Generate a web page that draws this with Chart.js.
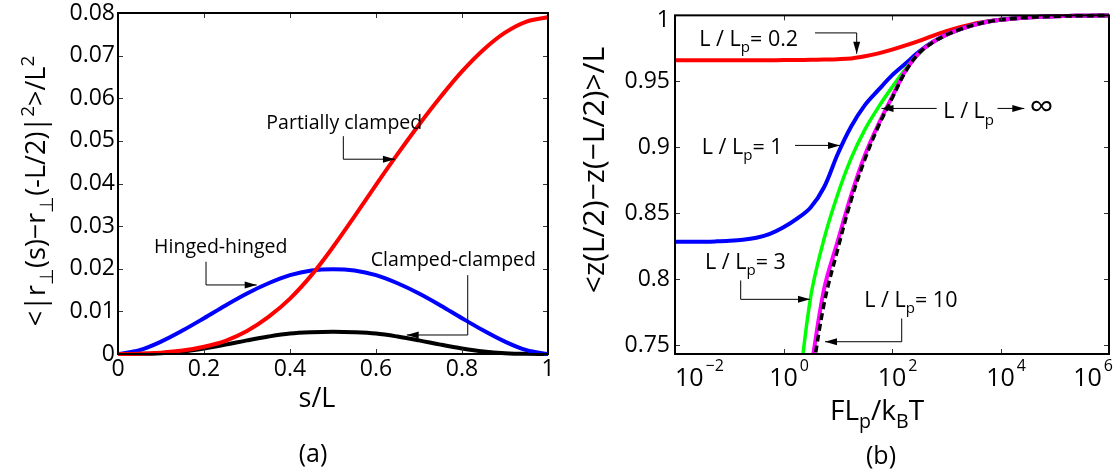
<!DOCTYPE html>
<html>
<head>
<meta charset="utf-8">
<script src="https://cdn.jsdelivr.net/npm/chart.js@4.4.1/dist/chart.umd.min.js"></script>
<style>
  html, body { margin: 0; padding: 0; background: #fff; }
  #wrap { position: relative; width: 1118px; height: 475px; overflow: hidden; }
  canvas { position: absolute; top: 0; }
  #ca { left: 0; }
  #cb { left: 560px; }
</style>
</head>
<body>
<div id="wrap">
  <canvas id="ca" width="560" height="475"></canvas>
  <canvas id="cb" width="558" height="475"></canvas>
</div>
<script>
const FONT = '"Open Sans", "Noto Sans", sans-serif';
const WEIGHT = "500";

// ── (a) transverse fluctuation along the filament ───────────────────────────

const sOverL = [0, 0.05, 0.1, 0.15, 0.2, 0.25, 0.3, 0.35, 0.4, 0.45, 0.5,
                0.55, 0.6, 0.65, 0.7, 0.75, 0.8, 0.85, 0.9, 0.95, 1];
const partiallyClamped = [0, 0.00005, 0.0003, 0.0008, 0.0017, 0.0031, 0.0054, 0.0087, 0.0130, 0.0185, 0.0251,
                          0.0323, 0.0397, 0.0469, 0.0538, 0.0603, 0.0663, 0.0714, 0.0754, 0.0780, 0.0790];
const hingedHinged = [0, 0.0009, 0.0029, 0.0055, 0.0084, 0.0114, 0.0142, 0.0166, 0.0185, 0.0196, 0.0199,
                      0.0196, 0.0185, 0.0166, 0.0142, 0.0114, 0.0084, 0.0055, 0.0029, 0.0009, 0];
const clampedClamped = [0, 0.00003, 0.0002, 0.0006, 0.0013, 0.0022, 0.0032, 0.0041, 0.0048, 0.0051, 0.0052,
                        0.0051, 0.0048, 0.0041, 0.0032, 0.0022, 0.0013, 0.0006, 0.0002, 0.00003, 0];
const xTicksA = [0, 0.2, 0.4, 0.6, 0.8, 1];
const yTicksA = [0, 0.01, 0.02, 0.03, 0.04, 0.05, 0.06, 0.07, 0.08];

// ── (b) relative extension vs force (x stored as log10 of F Lp / kB T) ──────

const logForce = [-2, -1.75, -1.5, -1.25, -1, -0.75, -0.5, -0.25, 0, 0.25, 0.5, 0.75, 1, 1.25, 1.5, 1.75,
                  2, 2.25, 2.5, 2.75, 3, 3.25, 3.5, 3.75, 4, 4.25, 4.5, 4.75, 5, 5.25, 5.5, 5.75, 6];
const ratio02 = [0.966, 0.966, 0.966, 0.966, 0.966, 0.966, 0.966, 0.9660, 0.9661, 0.9662, 0.9663, 0.9665,
                 0.9668, 0.9674, 0.9690, 0.9712, 0.9740, 0.9772, 0.9807, 0.9845, 0.9880, 0.9910, 0.9935,
                 0.9953, 0.9967, 0.9977, 0.9984, 0.9989, 0.9993, 0.9995, 0.9997, 0.9998, 0.9999];
const ratio1 = [0.8285, 0.8285, 0.8286, 0.8288, 0.8292, 0.8300, 0.8316, 0.8345, 0.8395, 0.8460, 0.8545,
                0.8700, 0.8950, 0.9160, 0.9320, 0.9435, 0.9545, 0.9635, 0.9725, 0.9798, 0.9853, 0.9894,
                0.9927, 0.9951, 0.9967, 0.9977, 0.9984, 0.9989, 0.9993, 0.9995, 0.9997, 0.9998, 0.9999];
const ratio3 = [null, null, null, null, null, null, null, null, null, 0.705, 0.7865, 0.831, 0.8645, 0.892,
                0.9135, 0.9305, 0.9455, 0.9595, 0.9712, 0.9795, 0.9851, 0.9893, 0.9926, 0.9950, 0.9966,
                0.9977, 0.9984, 0.9989, 0.9993, 0.9995, 0.9997, 0.9998, 0.9999];
const ratio10 = [null, null, null, null, null, null, null, null, null, null, 0.730, 0.793, 0.829, 0.864,
                 0.894, 0.9175, 0.938, 0.958, 0.9716, 0.9796, 0.9852, 0.9893, 0.9926, 0.9950, 0.9966,
                 0.9977, 0.9984, 0.9989, 0.9993, 0.9995, 0.9997, 0.9998, 0.9999];
const ratioInf = [null, null, null, null, null, null, null, null, null, null, 0.720, 0.782, 0.823, 0.8605,
                  0.891, 0.916, 0.937, 0.9575, 0.9715, 0.9795, 0.9851, 0.9893, 0.9926, 0.9950, 0.9966,
                  0.9977, 0.9984, 0.9989, 0.9993, 0.9995, 0.9997, 0.9998, 0.9999];
const xTicksB = [-2, 0, 2, 4, 6];
const yTicksB = [0.75, 0.8, 0.85, 0.9, 0.95, 1];

// ── Labels and arrows (anchored in data coordinates) ────────────────────────

const notesA = [
  { runs: [["Partially clamped"]], at: [0.345, 0.0527], path: [[0.524, 0.0511], [0.524, 0.0457], [0.644, 0.0457]] },
  { runs: [["Hinged-hinged"]], at: [0.084, 0.0236], path: [[0.2047, 0.02165], [0.2047, 0.0162], [0.3226, 0.0162]] },
  { runs: [["Clamped-clamped"]], at: [0.588, 0.0206], path: [[0.8133, 0.0185], [0.8133, 0.00446], [0.6714, 0.00446]] },
];
const notesB = [
  { runs: [["L / L"], ["p", "sub"], ["= 0.2"]], at: [-1.552, 0.9769], path: [[0.581, 0.9867], [1.349, 0.9867], [1.349, 0.9709]] },
  { runs: [["L / L"], ["p", "sub"], ["= 1"]], at: [-1.508, 0.8952], path: [[0.212, 0.9015], [1.041, 0.9015]] },
  { runs: [["L / L"], ["p", "sub"]], at: [2.946, 0.9220], path: [[2.824, 0.9295], [1.806, 0.9295]] },
  { runs: [], at: [3.945, 0.9295], path: [[3.945, 0.9295], [4.439, 0.9295]] },
  { runs: [["\u221E"]], at: [4.536, 0.9225], size: 34 },
  { runs: [["L / L"], ["p", "sub"], ["= 3"]], at: [-1.447, 0.8080], path: [[-0.789, 0.7992], [-0.789, 0.7849], [0.488, 0.7849]] },
  { runs: [["L / L"], ["p", "sub"], ["= 10"]], at: [1.489, 0.7791], path: [[2.179, 0.7704], [2.179, 0.7528], [0.765, 0.7528]] },
];

// ── Helpers ─────────────────────────────────────────────────────────────────

function drawRich(ctx, runs, x, y, size, align) {
  const parts = runs.map(([t, k]) => {
    const fs = k ? size * 0.7 : size;
    ctx.font = `${WEIGHT} ${fs}px ${FONT}`;
    return { t, k, fs, w: ctx.measureText(t).width };
  });
  const total = parts.reduce((s, p) => s + p.w, 0);
  let cx = align === "center" ? x - total / 2 : x;
  ctx.textAlign = "left";
  ctx.textBaseline = "alphabetic";
  parts.forEach(p => {
    ctx.font = `${WEIGHT} ${p.fs}px ${FONT}`;
    const dy = p.k === "sub" ? size * 0.3 : p.k === "sup" ? -size * 0.42 : 0;
    ctx.fillText(p.t, cx, y + dy);
    cx += p.w;
  });
}

function arrowPath(ctx, pts) {
  ctx.beginPath();
  pts.forEach(([px, py], i) => i ? ctx.lineTo(px, py) : ctx.moveTo(px, py));
  ctx.stroke();
  const [x1, y1] = pts[pts.length - 2];
  const [x2, y2] = pts[pts.length - 1];
  const a = Math.atan2(y2 - y1, x2 - x1);
  const len = 12, half = 3.5;
  ctx.beginPath();
  ctx.moveTo(x2, y2);
  ctx.lineTo(x2 - len * Math.cos(a) + half * Math.sin(a), y2 - len * Math.sin(a) - half * Math.cos(a));
  ctx.lineTo(x2 - len * Math.cos(a) - half * Math.sin(a), y2 - len * Math.sin(a) + half * Math.cos(a));
  ctx.closePath();
  ctx.fill();
}

// box with inward ticks on all four sides, like the original axes
const framePlugin = {
  id: "frame",
  afterDatasetsDraw(chart) {
    const { ctx, chartArea: a, scales: { x, y } } = chart;
    ctx.save();
    ctx.strokeStyle = "#333";
    ctx.lineWidth = 1;
    ctx.beginPath();
    x.ticks.forEach(t => {
      const px = Math.round(x.getPixelForValue(t.value)) + 0.5;
      ctx.moveTo(px, a.bottom); ctx.lineTo(px, a.bottom - 5);
      ctx.moveTo(px, a.top); ctx.lineTo(px, a.top + 5);
    });
    y.ticks.forEach(t => {
      const py = Math.round(y.getPixelForValue(t.value)) + 0.5;
      ctx.moveTo(a.left, py); ctx.lineTo(a.left + 5, py);
      ctx.moveTo(a.right, py); ctx.lineTo(a.right - 5, py);
    });
    ctx.stroke();
    ctx.strokeStyle = "#000";
    ctx.lineWidth = 2;
    ctx.strokeRect(a.left, a.top, a.right - a.left, a.bottom - a.top);
    ctx.restore();
  }
};

function notesPlugin(items, toX, size, titles) {
  return {
    id: "notes",
    afterDraw(chart) {
      const { ctx, scales: { x, y } } = chart;
      const px = v => x.getPixelForValue(toX(v));
      ctx.save();
      ctx.fillStyle = "#000";
      ctx.strokeStyle = "#000";
      ctx.lineWidth = 1;
      items.forEach(n => {
        if (n.runs.length) drawRich(ctx, n.runs, px(n.at[0]), y.getPixelForValue(n.at[1]), n.size || size, "left");
        if (n.path) arrowPath(ctx, n.path.map(([u, v]) => [px(u), y.getPixelForValue(v)]));
      });
      titles(ctx, chart);
      ctx.restore();
    }
  };
}

const pts = (xs, ys, f) => xs.map((v, i) => ({ x: f(v), y: ys[i] }));

const lineStyle = { pointRadius: 0, fill: false, tension: 0.35, borderJoinStyle: "round", spanGaps: false };
const tickFont = { family: FONT, size: 23, weight: WEIGHT, lineHeight: 0.45 };

// ── Chart (a) ───────────────────────────────────────────────────────────────

new Chart(document.getElementById("ca"), {
  type: "line",
  data: {
    datasets: [
      { ...lineStyle, data: pts(sOverL, partiallyClamped, v => v), borderColor: "#ff0000", borderWidth: 4, order: 0 },
      { ...lineStyle, data: pts(sOverL, hingedHinged, v => v), borderColor: "#0000ff", borderWidth: 4, order: 1 },
      { ...lineStyle, data: pts(sOverL, clampedClamped, v => v), borderColor: "#000000", borderWidth: 4, order: 2 },
    ]
  },
  options: {
    responsive: false,
    animation: false,
    events: [],
    clip: 6,
    layout: { padding: { left: 0, right: 12, top: 13, bottom: 0 } },
    plugins: { legend: { display: false }, tooltip: { enabled: false } },
    scales: {
      x: {
        type: "linear", min: 0, max: 1,
        grid: { display: false, drawTicks: false }, border: { display: false },
        ticks: { font: { ...tickFont, lineHeight: 1 }, color: "#000", padding: 4, maxRotation: 0, autoSkip: false, callback: v => String(v) },
        afterBuildTicks: s => { s.ticks = xTicksA.map(v => ({ value: v })); },
        afterFit: s => { s.height = 121; }
      },
      y: {
        min: 0, max: 0.08,
        grid: { display: false, drawTicks: false }, border: { display: false },
        ticks: { font: tickFont, color: "#000", padding: 3, autoSkip: false, callback: v => String(v) },
        afterBuildTicks: s => { s.ticks = yTicksA.map(v => ({ value: v })); },
        afterFit: s => { s.width = 118; }
      }
    }
  },
  plugins: [framePlugin, notesPlugin(notesA, v => v, 19.5, ctx => {
    drawRich(ctx, [["s/L"]], 317, 407, 27, "center");
    drawRich(ctx, [["(a)"]], 313, 462, 25, "center");
    ctx.save();
    ctx.translate(45, 191);
    ctx.rotate(-Math.PI / 2);
    drawRich(ctx, [["<|r"], ["\u22A5", "sub"], ["(s)\u2212r"], ["\u22A5", "sub"], ["(-L/2)|"], ["2", "sup"], [">/L"], ["2", "sup"]], 0, 0, 27, "center");
    ctx.restore();
  })]
});

// ── Chart (b) ───────────────────────────────────────────────────────────────

const pow10 = v => Math.pow(10, v);

const logLabels = {
  id: "logLabels",
  afterDraw(chart) {
    const { ctx, chartArea: a, scales: { x } } = chart;
    ctx.save();
    ctx.fillStyle = "#000";
    ctx.textBaseline = "alphabetic";
    ctx.textAlign = "left";
    xTicksB.forEach(e => {
      const px = x.getPixelForValue(pow10(e));
      const sup = e < 0 ? "\u2212" + (-e) : String(e);
      ctx.font = `${WEIGHT} 25px ${FONT}`;
      const w10 = ctx.measureText("10").width;
      ctx.font = `${WEIGHT} 16px ${FONT}`;
      const ws = ctx.measureText(sup).width;
      let left = Math.max(px - w10 / 2, a.left);
      if (left + w10 + 2 + ws > a.right + 4) left = a.right + 4 - w10 - 2 - ws;
      ctx.font = `${WEIGHT} 25px ${FONT}`;
      ctx.fillText("10", left, 386);
      ctx.font = `${WEIGHT} 16px ${FONT}`;
      ctx.fillText(sup, left + w10 + 2, 371);
    });
    ctx.restore();
  }
};

new Chart(document.getElementById("cb"), {
  type: "line",
  data: {
    datasets: [
      { ...lineStyle, data: pts(logForce, ratioInf, pow10), borderColor: "#000000", borderWidth: 3.5, borderDash: [7, 4], order: 0 },
      { ...lineStyle, data: pts(logForce, ratio10, pow10), borderColor: "#ff00ff", borderWidth: 4, order: 1 },
      { ...lineStyle, data: pts(logForce, ratio3, pow10), borderColor: "#00ff00", borderWidth: 3.5, order: 2 },
      { ...lineStyle, data: pts(logForce, ratio1, pow10), borderColor: "#0000ff", borderWidth: 4, order: 3 },
      { ...lineStyle, data: pts(logForce, ratio02, pow10), borderColor: "#ff0000", borderWidth: 4, order: 4 },
    ]
  },
  options: {
    responsive: false,
    animation: false,
    events: [],
    clip: { left: 0, top: 4, right: 4, bottom: 0 },
    layout: { padding: { left: 0, right: 9, top: 13, bottom: 0 } },
    plugins: { legend: { display: false }, tooltip: { enabled: false } },
    scales: {
      x: {
        type: "logarithmic", min: 0.01, max: 1e6,
        grid: { display: false, drawTicks: false }, border: { display: false },
        ticks: { display: false },
        afterBuildTicks: s => { s.ticks = xTicksB.map(e => ({ value: pow10(e) })); },
        afterFit: s => { s.height = 121; }
      },
      y: {
        min: 0.7435, max: 1,
        grid: { display: false, drawTicks: false }, border: { display: false },
        // top label sits a little below its tick in the original, so give it an empty first line
        ticks: { font: tickFont, color: "#000", padding: 5, autoSkip: false, callback: v => v === 1 ? ["", "1"] : String(v) },
        afterBuildTicks: s => { s.ticks = yTicksB.map(v => ({ value: v })); },
        afterFit: s => { s.width = 115; }
      }
    }
  },
  plugins: [framePlugin, logLabels, notesPlugin(notesB, pow10, 21.5, ctx => {
    drawRich(ctx, [["FL"], ["p", "sub"], ["/k"], ["B", "sub"], ["T"]], 317, 420, 28, "center");
    drawRich(ctx, [["(b)"]], 321, 464, 25, "center");
    ctx.save();
    ctx.translate(44, 170);
    ctx.rotate(-Math.PI / 2);
    drawRich(ctx, [["<z(L/2)\u2212z(\u2212L/2)>/L"]], 0, 0, 30, "center");
    ctx.restore();
  })]
});
</script>
</body>
</html>
